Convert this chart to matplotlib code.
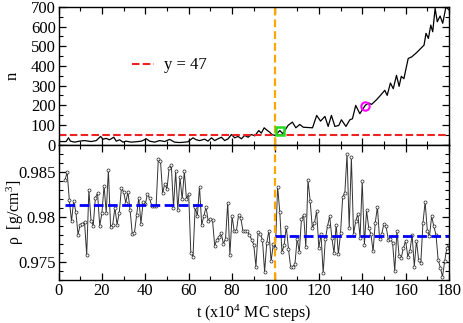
import numpy as np
import matplotlib
matplotlib.use("Agg")
import matplotlib.pyplot as plt
from matplotlib.ticker import MultipleLocator, FixedLocator, FixedFormatter

plt.rcParams["font.family"] = ["Liberation Serif", "DejaVu Serif"]
plt.rcParams["mathtext.fontset"] = "custom"
plt.rcParams["mathtext.rm"] = "Liberation Serif"
plt.rcParams["mathtext.it"] = "Liberation Serif"

# number of particles n(t), top panel
n_t = [0, 3.5, 4.6, 5.5, 7.4, 9.7, 12, 15.1, 17.4, 19.4,
       20.5, 22, 23.5, 25.5, 26.6, 28.2, 29.7, 31.2, 33.5, 35.8,
       38.2, 40.5, 42, 44.3, 46.6, 48.9, 51.2, 53.5, 55.8, 58.2,
       59.7, 62, 63.5, 65.1, 67.4, 68.9, 70.5, 72, 73.5, 75.1,
       76.6, 78.2, 79.7, 81.2, 82.8, 84.3, 85.8, 87.4, 88.9, 90.5,
       92.3, 93.5, 94.8, 96.3, 97.4, 98.5, 100, 102, 103.4, 105.8,
       107.8, 109.4, 111.2, 112.8, 117.1, 119, 120.8, 122.8, 124.3, 125.8,
       127.4, 129.2, 130.4, 132.5, 134.3, 135.5, 137, 138.9, 141.2, 141.9,
       143.1, 144.3, 146.6, 148.4, 150.4, 151.5, 153, 154.3, 155.8, 157,
       158, 159.2, 161.2, 162.8, 165, 168.5, 169.4, 170.5, 171.6, 172.5,
       173.6, 174.6, 175.9, 177.1, 178.6, 180]
n_vals = [15, 15, 34, 17, 12, 17, 20, 15, 20, 41,
          27, 31, 24, 37, 17, 24, 12, 17, 12, 14,
          17, 29, 17, 12, 20, 15, 26, 12, 10, 12,
          14, 34, 24, 20, 27, 17, 34, 20, 29, 37,
          20, 29, 51, 34, 41, 29, 46, 37, 51, 44,
          71, 58, 85, 71, 62, 50, 46, 71, 55, 97,
          114, 85, 102, 88, 85, 148, 119, 143, 92, 148,
          92, 97, 126, 92, 126, 131, 199, 157, 196, 204,
          211, 204, 228, 250, 276, 250, 313, 284, 352, 296,
          347, 335, 438, 446, 467, 506, 566, 540, 608, 574,
          693, 625, 654, 617, 701, 685]

# highlighted points
green_t, green_n = [102], [71]
magenta_t, magenta_n = [141.2], [197]

n_threshold = 47
t_switch = 100

# density rho(t), bottom panel
rho_t = np.arange(3, 181)
rho_vals = [
    0.98409, 0.98491, 0.98182, 0.97951, 0.98175, 0.98055, 0.97802, 0.97914, 0.97925, 0.97940,
    0.97579, 0.98297, 0.97955, 0.97903, 0.98212, 0.98260, 0.97900, 0.98037, 0.98345, 0.98044,
    0.98517, 0.97884, 0.97914, 0.98100, 0.97914, 0.98044, 0.98315, 0.98278, 0.98156, 0.98275,
    0.98074, 0.97810, 0.97820, 0.98018, 0.98212, 0.97925, 0.98163, 0.98137, 0.98256, 0.98204,
    0.98119, 0.98119, 0.98119, 0.98639, 0.98621, 0.98260, 0.98368, 0.98305, 0.98539, 0.98576,
    0.98100, 0.98502, 0.98074, 0.98435, 0.98193, 0.98502, 0.98193, 0.98256, 0.97597, 0.97560,
    0.98111, 0.98006, 0.98334, 0.97914, 0.98006, 0.98111, 0.97951, 0.97977, 0.97959, 0.97680,
    0.97747, 0.97777, 0.97817, 0.97702, 0.97754, 0.98156, 0.97579, 0.98006, 0.97840, 0.97840,
    0.98018, 0.97988, 0.97847, 0.97847, 0.97840, 0.97802, 0.97747, 0.97691, 0.97449, 0.97832,
    0.97810, 0.97747, 0.97393, 0.97710, 0.97847, 0.97505, 0.97700, 0.97654, 0.98333, 0.98056,
    0.97610, 0.97684, 0.97889, 0.97647, 0.97442, 0.97442, 0.97480, 0.97759, 0.97610, 0.97975,
    0.98020, 0.97666, 0.98405, 0.98174, 0.97877, 0.97933, 0.98063, 0.97654, 0.97810, 0.97375,
    0.97754, 0.97895, 0.98006, 0.97765, 0.97598, 0.97914, 0.97586, 0.97820, 0.98220, 0.98267,
    0.98695, 0.97877, 0.98658, 0.97810, 0.97951, 0.98033, 0.97765, 0.98398, 0.97691, 0.98070,
    0.97877, 0.97810, 0.97616, 0.97933, 0.98108, 0.97754, 0.97810, 0.97925, 0.97895, 0.97747,
    0.97758, 0.97710, 0.97402, 0.97847, 0.97567, 0.97549, 0.97654, 0.97736, 0.97560, 0.97623,
    0.97802, 0.97449, 0.97736, 0.97523, 0.97486, 0.97933, 0.98167, 0.97847, 0.97784, 0.98006,
    0.97895, 0.97802, 0.97523, 0.97438, 0.97337, 0.97505, 0.97654, 0.97691]

# mean densities before / after the switch
mean1_t, mean1 = [3, 68], 0.9813
mean2_t, mean2 = [100, 180], 0.9779

rho_ticks = [0.975, 0.98, 0.985]
rho_ticklabels = ["0.975", "0.98", "0.985"]

fig = plt.figure(figsize=(4.63, 3.23), dpi=100)
L, R = 58.5 / 463, 449 / 463
ax1 = fig.add_axes([L, 1 - 144.5 / 323, R - L, 137.5 / 323])
ax2 = fig.add_axes([L, 1 - 280 / 323, R - L, 135.5 / 323], sharex=ax1)

# top panel
ax1.plot(n_t, n_vals, color="black", lw=0.9)
ax1.axhline(n_threshold, color="#ee2222", lw=1.5, dashes=(3.6, 1.6), label="y = 47")
ax1.axvline(t_switch, color="orange", lw=1.6, dashes=(3.5, 1.8))
ax1.plot(green_t, green_n, "s", ms=5.5, mfc="none", mec="#22dd22", mew=1.8)
ax1.plot(magenta_t, magenta_n, "o", ms=6, mfc="none", mec="magenta", mew=1.5)
ax1.set_ylim(0, 700)
ax1.set_xlim(0, 180)
ax1.yaxis.set_major_locator(MultipleLocator(100))
ax1.yaxis.set_minor_locator(MultipleLocator(50))
ax1.set_ylabel("n", fontsize=12)
ax1.legend(loc="center left", bbox_to_anchor=(0.15, 0.575), frameon=False,
           fontsize=12, handlelength=1.3, handletextpad=0.6)
ax1.tick_params(labelbottom=False)

# bottom panel
ax2.plot(rho_t, rho_vals, color="#333333", lw=0.7, marker="o", ms=2.2,
         mfc="white", mec="#222222", mew=0.5)
ax2.plot(mean1_t, [mean1, mean1], color="blue", lw=2, dashes=(3.5, 1.6))
ax2.plot(mean2_t, [mean2, mean2], color="blue", lw=2, dashes=(3.5, 1.6))
ax2.axvline(t_switch, color="orange", lw=1.6, dashes=(3.5, 1.8))
ax2.set_ylim(0.973, 0.988)
ax2.yaxis.set_major_locator(FixedLocator(rho_ticks))
ax2.yaxis.set_major_formatter(FixedFormatter(rho_ticklabels))
ax2.yaxis.set_minor_locator(MultipleLocator(0.001))
ax2.xaxis.set_major_locator(MultipleLocator(20))
ax2.xaxis.set_minor_locator(MultipleLocator(10))
ax2.set_ylabel(r"$\rho$  [g/cm$^3$]", fontsize=11.5)
ax2.set_xlabel(r"t (x10$^4$ MC steps)", fontsize=11.5)

for ax in (ax1, ax2):
    ax.tick_params(which="both", direction="in", top=True, right=True, labelsize=12, pad=2)
    ax.tick_params(which="major", length=5, width=0.9)
    ax.tick_params(which="minor", length=3, width=0.8)
    for s in ax.spines.values():
        s.set_linewidth(1.0)
ax1.yaxis.set_label_coords(-0.098, 0.5)
ax2.yaxis.set_label_coords(-0.083, 0.5)
ax2.xaxis.set_label_coords(0.5, -0.165)

fig.savefig("out.png", dpi=100)
